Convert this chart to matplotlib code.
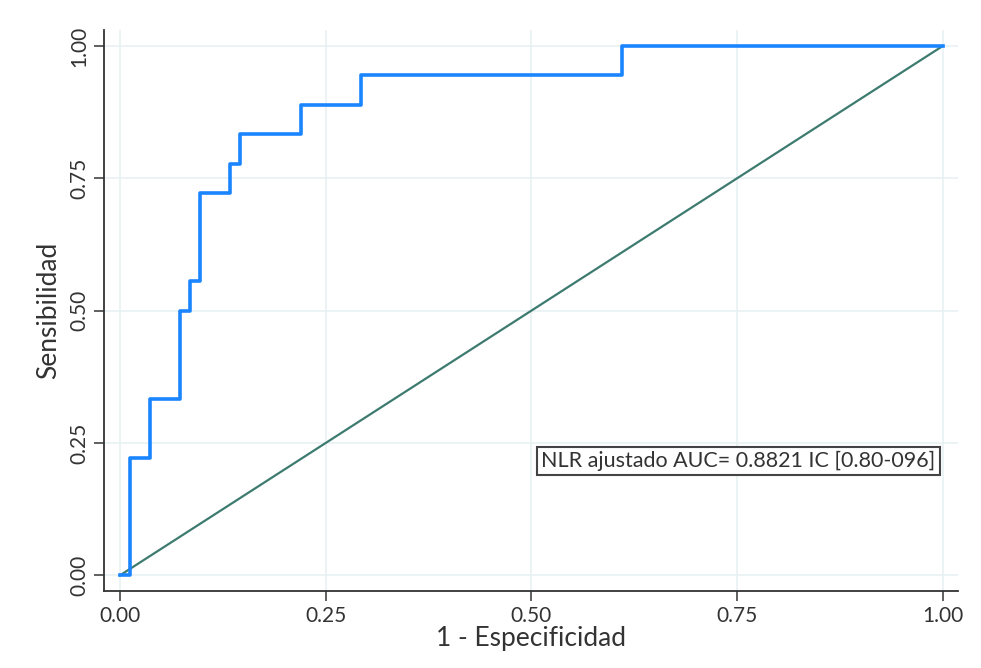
import matplotlib
matplotlib.use("Agg")
import matplotlib.pyplot as plt

# ROC curve points (1 - specificity, sensitivity)
fpr = [0.0, 1/82, 1/82, 3/82, 3/82, 6/82, 6/82, 7/82, 7/82, 8/82, 8/82,
       11/82, 11/82, 12/82, 12/82, 18/82, 18/82, 24/82, 24/82, 50/82, 50/82, 1.0]
tpr = [0.0, 0.0, 4/18, 4/18, 6/18, 6/18, 9/18, 9/18, 10/18, 10/18, 13/18,
       13/18, 14/18, 14/18, 15/18, 15/18, 16/18, 16/18, 17/18, 17/18, 1.0, 1.0]
ref_x = [0.0, 1.0]
ref_y = [0.0, 1.0]
ticks = [0.0, 0.25, 0.5, 0.75, 1.0]
tick_labels = ["0.00", "0.25", "0.50", "0.75", "1.00"]
label_text = "NLR ajustado AUC= 0.8821 IC [0.80-096]"

plt.rcParams["font.family"] = ["Lato", "DejaVu Sans"]

fig = plt.figure(figsize=(9.81, 6.68), dpi=100, facecolor="white")
ax = fig.add_axes([0.106, 0.115, 0.871, 0.84])

ax.plot(ref_x, ref_y, color="#3d7b70", lw=1.6, zorder=3)
ax.plot(fpr, tpr, color="#1a85ff", lw=2.6, zorder=4)

ax.set_xlim(-0.0195, 1.019)
ax.set_ylim(-0.030, 1.030)
ax.set_xticks(ticks)
ax.set_xticklabels(tick_labels, fontsize=15, color="#333333")
ax.set_yticks(ticks)
ax.set_yticklabels(tick_labels, fontsize=15, color="#333333",
                   rotation=90, va="center")
ax.grid(True, color="#e8f1f2", lw=1.2)
ax.set_axisbelow(True)
ax.tick_params(direction="out", length=7, width=1.2, color="#444444")

for side in ["top", "right"]:
    ax.spines[side].set_visible(False)
for side in ["left", "bottom"]:
    ax.spines[side].set_color("#333333")
    ax.spines[side].set_linewidth(1.3)

ax.set_xlabel("1 - Especificidad", fontsize=19, color="#333333", labelpad=0)
ax.set_ylabel("Sensibilidad", fontsize=19, color="#333333", labelpad=6)

ax.text(0.512, 0.216, label_text, fontsize=15.5, color="#333333",
        va="center", ha="left", zorder=5,
        bbox=dict(boxstyle="square,pad=0.2", fc="white", ec="#444444", lw=1.5))

fig.savefig("out.png", dpi=100, facecolor="white")
